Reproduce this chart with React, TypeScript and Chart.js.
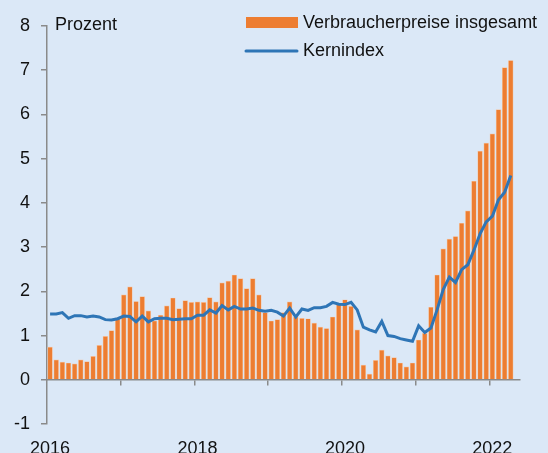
import React, { useEffect, useRef } from 'react';
import { Chart, registerables } from 'chart.js';

Chart.register(...registerables);

// ---------- data ----------
const startYear = 2016;
const monthCount = 76; // Jan 2016 .. Apr 2022
const axisMonths = 77; // axis runs to end of May 2022
const months: string[] = Array.from({ length: monthCount }, (_, i) =>
  `${startYear + Math.floor(i / 12)}-${String((i % 12) + 1).padStart(2, '0')}`
);

const seriesNames = ['Verbraucherpreise insgesamt', 'Kernindex'];
const unitLabel = 'Prozent';
const yearLabels = ['2016', '2018', '2020', '2022'];

// Verbraucherpreise insgesamt (bars)
const cpi = [
  0.74, 0.45, 0.40, 0.38, 0.36, 0.45, 0.41, 0.53, 0.78, 0.98, 1.11, 1.40,
  1.92, 2.10, 1.77, 1.88, 1.56, 1.33, 1.46, 1.67, 1.85, 1.61, 1.79, 1.75,
  1.76, 1.75, 1.86, 1.76, 2.19, 2.23, 2.37, 2.29, 2.06, 2.29, 1.92, 1.52,
  1.33, 1.36, 1.52, 1.76, 1.42, 1.39, 1.38, 1.28, 1.19, 1.16, 1.42, 1.71,
  1.81, 1.66, 1.13, 0.33, 0.13, 0.44, 0.67, 0.54, 0.50, 0.38, 0.29, 0.38,
  0.90, 1.05, 1.64, 2.37, 2.96, 3.18, 3.24, 3.54, 3.82, 4.49, 5.17, 5.35,
  5.56, 6.11, 7.06, 7.22,
];

// Kernindex (line)
const core = [
  1.49, 1.49, 1.52, 1.39, 1.45, 1.45, 1.42, 1.44, 1.42, 1.36, 1.35, 1.38,
  1.44, 1.43, 1.31, 1.44, 1.31, 1.38, 1.39, 1.39, 1.36, 1.37, 1.38, 1.38,
  1.46, 1.46, 1.58, 1.51, 1.68, 1.58, 1.66, 1.60, 1.60, 1.62, 1.57, 1.55,
  1.57, 1.53, 1.44, 1.62, 1.42, 1.60, 1.57, 1.63, 1.63, 1.66, 1.75, 1.71,
  1.70, 1.75, 1.58, 1.19, 1.13, 1.08, 1.32, 1.00, 0.98, 0.93, 0.90, 0.87,
  1.22, 1.07, 1.17, 1.58, 2.04, 2.32, 2.20, 2.49, 2.60, 2.93, 3.30, 3.57,
  3.70, 4.07, 4.24, 4.62,
];

// ---------- styles ----------
const BG = 'rgb(219, 232, 247)';
const ORANGE = '#ED7D31';
const BLUE = '#2E75B6';
const AXIS = '#8a8a8a';
const TEXT = '#111111';
const FONT = "'Liberation Sans', Arial, Helvetica, sans-serif";

const overlayPlugin = {
  id: 'overlay',
  afterDraw(chart: any) {
    const ctx = chart.ctx as CanvasRenderingContext2D;
    ctx.save();
    ctx.font = `18px ${FONT}`;
    ctx.fillStyle = TEXT;
    ctx.textBaseline = 'middle';
    ctx.textAlign = 'left';
    ctx.fillText(unitLabel, 55, 25);
    // legend
    ctx.fillStyle = ORANGE;
    ctx.fillRect(246, 17, 52, 11);
    ctx.fillStyle = TEXT;
    ctx.fillText(seriesNames[0], 303, 23);
    ctx.strokeStyle = BLUE;
    ctx.lineWidth = 3;
    ctx.lineCap = 'round';
    ctx.beginPath();
    ctx.moveTo(246, 51);
    ctx.lineTo(297, 51);
    ctx.stroke();
    ctx.fillText(seriesNames[1], 303, 51);
    ctx.restore();
  },
};

export default function App() {
  const ref = useRef<HTMLCanvasElement | null>(null);

  useEffect(() => {
    if (!ref.current) return;
    const chart = new Chart(ref.current, {
      type: 'line',
      data: {
        datasets: [
          {
            type: 'line',
            label: seriesNames[1],
            data: core.map((v, i) => ({ x: i + 0.5, y: v })),
            borderColor: BLUE,
            backgroundColor: BLUE,
            borderWidth: 3,
            pointRadius: 0,
            tension: 0,
            order: 0,
            xAxisID: 'x',
            yAxisID: 'y',
          } as any,
          {
            type: 'bar',
            label: seriesNames[0],
            data: cpi.map((v, i) => ({ x: i + 0.5, y: v })),
            backgroundColor: ORANGE,
            borderColor: 'rgba(246, 196, 160, 0.95)',
            borderWidth: 0.7,
            barThickness: 4.8,
            order: 1,
            xAxisID: 'x',
            yAxisID: 'y',
          } as any,
        ],
      },
      options: {
        animation: false,
        responsive: true,
        maintainAspectRatio: false,
        layout: { padding: { top: 26, right: 28, left: 0, bottom: 0 } },
        plugins: {
          legend: { display: false },
          tooltip: { enabled: false },
        },
        scales: {
          x: {
            type: 'linear',
            position: { y: 0 } as any,
            offset: false,
            min: 0,
            max: axisMonths,
            afterBuildTicks: (s: any) => {
              s.ticks = [12, 24, 36, 48, 60, 72].map((v) => ({ value: v }));
            },
            ticks: { display: false },
            grid: {
              offset: false,
              drawOnChartArea: false,
              drawTicks: true,
              tickLength: 5,
              color: AXIS,
              lineWidth: 1.5,
            },
            border: { display: true, color: AXIS, width: 1.5 },
          },
          x2: {
            type: 'linear',
            position: 'bottom',
            offset: false,
            min: 0,
            max: axisMonths,
            afterBuildTicks: (s: any) => {
              s.ticks = yearLabels.map((_, k) => ({ value: k * 24 + 0.5 }));
            },
            afterFit: (s: any) => {
              s.height = 29;
            },
            ticks: {
              autoSkip: false,
              maxRotation: 0,
              padding: 14,
              color: TEXT,
              font: { size: 18, family: FONT },
              callback: (_v: any, idx: number) => yearLabels[idx],
            },
            grid: { display: false, drawTicks: false, offset: false },
            border: { display: false },
          },
          y: {
            type: 'linear',
            position: 'left',
            min: -1,
            max: 8,
            afterFit: (s: any) => {
              s.width = 47;
            },
            ticks: {
              stepSize: 1,
              padding: 11,
              color: TEXT,
              font: { size: 18, family: FONT },
            },
            grid: {
              drawOnChartArea: false,
              drawTicks: true,
              tickLength: 6,
              color: AXIS,
              lineWidth: 1.5,
            },
            border: { display: true, color: AXIS, width: 1.5 },
          },
        },
      } as any,
      plugins: [overlayPlugin],
    });
    return () => chart.destroy();
  }, []);

  return (
    <div
      style={{
        position: 'fixed',
        left: 0,
        top: 0,
        width: 548,
        height: 453,
        background: BG,
      }}
    >
      <canvas ref={ref} />
    </div>
  );
}
